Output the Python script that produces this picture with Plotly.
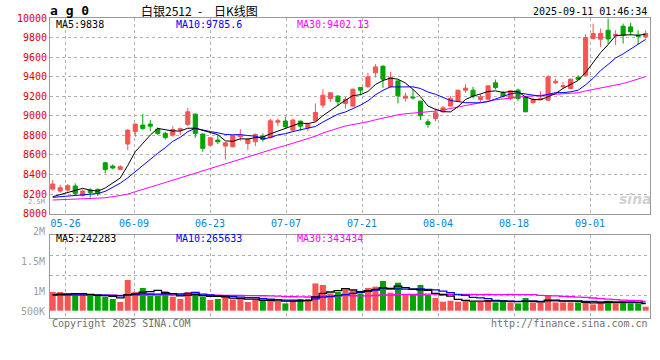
import plotly.graph_objects as go

# ---------------- data ----------------
dates = ["05-22", "05-23", "05-26", "05-27", "05-28", "05-29", "05-30", "06-03", "06-04", "06-05",
         "06-06", "06-09", "06-10", "06-11", "06-12", "06-13", "06-16", "06-17", "06-18", "06-19",
         "06-20", "06-23", "06-24", "06-25", "06-26", "06-27", "06-30", "07-01", "07-02", "07-03",
         "07-04", "07-07", "07-08", "07-09", "07-10", "07-11", "07-14", "07-15", "07-16", "07-17",
         "07-18", "07-21", "07-22", "07-23", "07-24", "07-25", "07-28", "07-29", "07-30", "07-31",
         "08-01", "08-04", "08-05", "08-06", "08-07", "08-08", "08-11", "08-12", "08-13", "08-14",
         "08-15", "08-18", "08-19", "08-20", "08-21", "08-22", "08-25", "08-26", "08-27", "08-28",
         "08-29", "09-01", "09-02", "09-03", "09-04", "09-05", "09-08", "09-09", "09-10", "09-11"]

open_p = [8251, 8231, 8241, 8282, 8183, 8241, 8248, 8520, 8486, 8452,
          8711, 8840, 8905, 8915, 8864, 8820, 8803, 8854, 8912, 9017,
          8813, 8700, 8752, 8690, 8683, 8786, 8717, 8734, 8792, 8779,
          8935, 8946, 8854, 8946, 8877, 8949, 9109, 9177, 9201, 9126,
          9099, 9289, 9296, 9439, 9507, 9296, 9357, 9180, 9191, 9150,
          8939, 8973, 9041, 9099, 9150, 9262, 9262, 9167, 9170, 9337,
          9235, 9177, 9262, 9194, 9136, 9167, 9160, 9337, 9296, 9279,
          9392, 9415, 9790, 9783, 9875, 9817, 9916, 9909, 9824, 9807]
high_p = [8343, 8292, 8302, 8309, 8248, 8258, 8258, 8530, 8503, 8496,
          8860, 8922, 9017, 8956, 8881, 8837, 8894, 8881, 9078, 9024,
          8820, 8786, 8803, 8734, 8803, 8864, 8775, 8820, 8820, 8969,
          8973, 8990, 8973, 8950, 8929, 9126, 9272, 9240, 9211, 9194,
          9279, 9292, 9439, 9528, 9517, 9449, 9364, 9235, 9269, 9153,
          8966, 9075, 9099, 9201, 9266, 9323, 9296, 9221, 9313, 9371,
          9255, 9262, 9279, 9201, 9177, 9252, 9415, 9381, 9347, 9381,
          9415, 9834, 9943, 9892, 9994, 9875, 9943, 9950, 9875, 9875]
low_p = [8234, 8214, 8224, 8190, 8173, 8163, 8180, 8411, 8452, 8445,
         8649, 8786, 8854, 8843, 8803, 8758, 8786, 8803, 8894, 8775,
         8632, 8690, 8711, 8554, 8677, 8745, 8649, 8690, 8734, 8769,
         8894, 8871, 8837, 8847, 8843, 8939, 9082, 9143, 9099, 9075,
         9092, 9211, 9289, 9392, 9286, 9289, 9126, 9146, 9167, 8956,
         8877, 8946, 9031, 9092, 9143, 9235, 9177, 9143, 9160, 9269,
         9187, 9160, 9153, 9037, 9119, 9160, 9150, 9323, 9279, 9279,
         9364, 9410, 9780, 9705, 9732, 9722, 9739, 9824, 9732, 9790]
close_p = [8302, 8265, 8285, 8207, 8231, 8214, 8207, 8452, 8466, 8479,
           8854, 8915, 8871, 8894, 8820, 8779, 8860, 8867, 9041, 8820,
           8667, 8775, 8734, 8724, 8796, 8796, 8762, 8809, 8758, 8949,
           8949, 8888, 8956, 8894, 8912, 9034, 9211, 9235, 9143, 9170,
           9272, 9262, 9398, 9500, 9374, 9392, 9204, 9201, 9184, 9000,
           8912, 9031, 9082, 9177, 9262, 9283, 9201, 9194, 9306, 9289,
           9201, 9255, 9177, 9041, 9167, 9177, 9398, 9354, 9306, 9374,
           9374, 9800, 9841, 9841, 9786, 9834, 9824, 9858, 9814, 9841]

ma5 = [8173, 8195, 8215, 8238, 8258, 8240, 8229, 8262, 8314, 8364,
       8492, 8633, 8717, 8803, 8871, 8856, 8845, 8844, 8873, 8873,
       8851, 8834, 8807, 8744, 8739, 8765, 8762, 8777, 8784, 8815,
       8845, 8871, 8900, 8927, 8920, 8937, 9001, 9057, 9107, 9159,
       9206, 9216, 9249, 9320, 9361, 9385, 9374, 9334, 9271, 9196,
       9100, 9066, 9042, 9040, 9093, 9167, 9201, 9223, 9249, 9255,
       9238, 9249, 9246, 9193, 9168, 9163, 9192, 9227, 9280, 9322,
       9361, 9442, 9539, 9646, 9728, 9820, 9825, 9829, 9823, 9834]
ma10 = [8166, 8172, 8178, 8185, 8191, 8198, 8205, 8228, 8268, 8311,
        8366, 8431, 8490, 8558, 8617, 8674, 8739, 8781, 8838, 8872,
        8853, 8839, 8826, 8809, 8806, 8808, 8798, 8792, 8764, 8777,
        8805, 8817, 8839, 8856, 8867, 8891, 8936, 8979, 9017, 9039,
        9072, 9109, 9153, 9214, 9260, 9296, 9295, 9292, 9296, 9279,
        9243, 9220, 9188, 9156, 9145, 9134, 9133, 9133, 9145, 9174,
        9203, 9225, 9235, 9221, 9211, 9201, 9221, 9237, 9237, 9245,
        9262, 9317, 9383, 9463, 9525, 9591, 9633, 9684, 9735, 9781]
ma30 = [8139, 8141, 8144, 8147, 8150, 8154, 8158, 8162, 8172, 8185,
        8200, 8222, 8246, 8270, 8294, 8318, 8342, 8366, 8392, 8416,
        8440, 8462, 8484, 8507, 8530, 8554, 8578, 8602, 8627, 8653,
        8675, 8696, 8718, 8741, 8764, 8791, 8824, 8851, 8873, 8896,
        8910, 8922, 8939, 8959, 8978, 8998, 9010, 9021, 9026, 9032,
        9040, 9048, 9060, 9075, 9091, 9107, 9121, 9134, 9153, 9164,
        9172, 9185, 9192, 9197, 9205, 9210, 9216, 9220, 9226, 9233,
        9236, 9254, 9269, 9280, 9294, 9309, 9330, 9352, 9373, 9401]

volume = [654000, 654000, 584000, 535000, 570000, 514000, 514000, 490000, 409000, 304000,
          1074000, 654000, 794000, 514000, 514000, 675000, 490000, 409000, 654000, 605000,
          490000, 374000, 409000, 535000, 395000, 395000, 304000, 395000, 339000, 395000,
          304000, 255000, 374000, 409000, 409000, 955000, 899000, 605000, 654000, 752000,
          724000, 605000, 794000, 840000, 1039000, 630000, 980000, 549000, 584000, 899000,
          549000, 444000, 315000, 350000, 315000, 374000, 315000, 315000, 374000, 290000,
          374000, 290000, 255000, 444000, 290000, 290000, 549000, 290000, 290000, 290000,
          290000, 290000, 220000, 290000, 350000, 255000, 339000, 255000, 255000, 140000]
vol_ma5 = [560000, 575000, 585000, 595000, 599000, 571000, 543000, 525000, 499000, 446000,
           558000, 586000, 647000, 668000, 710000, 630000, 597000, 520000, 548000, 567000,
           530000, 506000, 506000, 483000, 441000, 422000, 408000, 405000, 366000, 366000,
           347000, 338000, 333000, 347000, 350000, 480000, 609000, 655000, 704000, 773000,
           727000, 668000, 706000, 743000, 800000, 782000, 857000, 808000, 756000, 728000,
           712000, 605000, 558000, 511000, 395000, 360000, 334000, 334000, 339000, 334000,
           334000, 329000, 317000, 331000, 331000, 314000, 366000, 373000, 342000, 342000,
           342000, 290000, 276000, 276000, 288000, 281000, 291000, 298000, 291000, 249000]
vol_ma10 = [550000, 552000, 554000, 556000, 556000, 552000, 548000, 542000, 534000, 523000,
            565000, 565000, 586000, 584000, 578000, 594000, 592000, 584000, 608000, 638000,
            580000, 552000, 513000, 516000, 504000, 476000, 457000, 456000, 424000, 403000,
            385000, 373000, 369000, 357000, 358000, 414000, 473000, 494000, 526000, 562000,
            604000, 639000, 681000, 724000, 787000, 754000, 762000, 757000, 750000, 764000,
            747000, 731000, 683000, 634000, 562000, 536000, 469000, 446000, 425000, 364000,
            347000, 331000, 325000, 335000, 332000, 324000, 347000, 345000, 336000, 336000,
            328000, 328000, 324000, 309000, 315000, 311000, 290000, 287000, 283000, 268000]
vol_ma30 = [545000, 545000, 545000, 545000, 545000, 544000, 543000, 542000, 540000, 538000,
            545000, 547000, 550000, 550000, 550000, 552000, 550000, 548000, 548000, 548000,
            545000, 542000, 540000, 538000, 535000, 532000, 528000, 525000, 523000, 521000,
            510000, 496000, 489000, 485000, 480000, 495000, 507000, 511000, 519000, 534000,
            523000, 521000, 521000, 532000, 549000, 548000, 564000, 569000, 567000, 576000,
            578000, 581000, 578000, 571000, 569000, 568000, 568000, 566000, 567000, 563000,
            566000, 567000, 563000, 564000, 560000, 538000, 526000, 516000, 504000, 488000,
            474000, 463000, 444000, 426000, 403000, 390000, 369000, 359000, 348000, 323000]

tick_dates = ["05-26", "06-09", "06-23", "07-07", "07-21", "08-04", "08-18", "09-01"]
price_ticks = [8000, 8200, 8400, 8600, 8800, 9000, 9200, 9400, 9600, 9800, 10000]
price_ma_labels = ["MA5:9838", "MA10:9785.6", "MA30:9402.13"]
vol_ma_labels = ["MA5:242283", "MA10:265633", "MA30:343434"]
vol_axis_labels = ["2.5M", "2M", "1.5M", "1M", "500K"]
symbol = "a g 0"
title_name = "白银2512"
title_kind = "日K线图"
timestamp = "2025-09-11 01:46:34"
copyright_text = "Copyright 2025 SINA.COM"
url_text = "http://finance.sina.com.cn"
watermark = "sina"

for arr in (open_p, high_p, low_p, close_p, ma5, ma10, ma30, volume, vol_ma5, vol_ma10, vol_ma30):
    assert len(arr) == len(dates), len(arr)

# ---------------- style ----------------
RED = "#f85454"
GREEN = "#00a400"
BLUE = "#0000ff"
MAGENTA = "#ff00ff"
BLACK = "#000000"
GRID = "#b0b0b0"
FRAME = "#9a9a9a"
MONO = "DejaVu Sans Mono"

W, H = 660, 360
ML, MR, MT, MB = 50, 10, 18, 42
PH = H - MT - MB  # plot height in px (300)


def py(pix):  # pixel row -> paper y
    return (H - MB - pix) / PH


def px(pix):  # pixel col -> paper x
    return (pix - ML) / (W - ML - MR)


VOL_PER_PX = 35000
vol_base_px = 310.7
vol_top_px = 234.7
vol_range = [-(H - MB - vol_base_px) * VOL_PER_PX, (vol_base_px - vol_top_px) * VOL_PER_PX]
vol_grid = [(vol_base_px - p) * VOL_PER_PX for p in (295, 275, 255)]

idx = list(range(len(dates)))
tick_pos = [dates.index(d) * 1.0125 - 0.3 for d in tick_dates]

fig = go.Figure()

fig.add_trace(go.Candlestick(
    x=idx, open=open_p, high=high_p, low=low_p, close=close_p,
    increasing=dict(line=dict(color=RED, width=1), fillcolor=RED),
    decreasing=dict(line=dict(color=GREEN, width=1), fillcolor=GREEN),
    whiskerwidth=0, showlegend=False, hoverinfo="skip", xaxis="x", yaxis="y"))

for arr, col in ((ma30, MAGENTA), (ma10, BLUE), (ma5, BLACK)):
    fig.add_trace(go.Scatter(x=idx, y=arr, mode="lines", line=dict(color=col, width=1),
                             showlegend=False, hoverinfo="skip", xaxis="x", yaxis="y"))

vol_colors = [RED if c >= o else GREEN for o, c in zip(open_p, close_p)]
fig.add_trace(go.Bar(x=idx, y=volume, width=0.8, marker=dict(color=vol_colors, line=dict(width=0)),
                     showlegend=False, hoverinfo="skip", xaxis="x2", yaxis="y2"))

for arr, col in ((vol_ma30, MAGENTA), (vol_ma10, BLUE), (vol_ma5, BLACK)):
    fig.add_trace(go.Scatter(x=idx, y=arr, mode="lines", line=dict(color=col, width=1.3, shape="hvh"),
                             showlegend=False, hoverinfo="skip", xaxis="x2", yaxis="y2"))

xr = [-0.36, len(dates) - 0.42]
common_x = dict(range=xr, tickvals=tick_pos, showgrid=True, gridcolor=GRID, griddash="dot",
                gridwidth=1, showline=True, mirror=True, linecolor=FRAME, linewidth=1,
                ticks="", zeroline=False, fixedrange=True, automargin=False)

fig.update_layout(
    width=W, height=H, margin=dict(l=ML, r=MR, t=MT, b=MB, autoexpand=False),
    paper_bgcolor="white", plot_bgcolor="white", boxgap=0.22,
    font=dict(family=MONO, size=10, color=BLACK),
    xaxis=dict(**common_x, anchor="y", ticktext=tick_dates,
               tickfont=dict(family=MONO, size=10, color="#0a84d6"),
               rangeslider=dict(visible=False)),
    xaxis2=dict(**common_x, anchor="y2", matches="x", showticklabels=False),
    yaxis=dict(domain=[py(213.6), 1], range=[8000, 10000], tickvals=price_ticks, tickformat="d",
               tickfont=dict(family=MONO, size=10, color="#e00000"), automargin=False,
               showgrid=True, gridcolor=GRID, griddash="dot", showline=True, mirror=True,
               linecolor=FRAME, linewidth=1, ticks="", zeroline=False, fixedrange=True),
    yaxis2=dict(domain=[0, py(vol_top_px)], range=vol_range, tickvals=vol_grid, automargin=False,
                showticklabels=False, showgrid=True, gridcolor=GRID, griddash="dot",
                showline=True, mirror=True, linecolor=FRAME, linewidth=1, ticks="",
                zeroline=False, fixedrange=True),
)

ann = []


def add_text(text, x, y, anchor="left", color=BLACK, size=10, family=MONO, **kw):
    ann.append(dict(text=text, x=x, y=y, xref="paper", yref="paper", xanchor=anchor,
                    yanchor="middle", showarrow=False,
                    font=dict(family=family, size=size, color=color), **kw))


add_text("<b>" + symbol + "</b>", px(48), py(11), size=13)
add_text(title_name, px(139), py(11), size=12, family="Noto Sans CJK SC")
add_text("-", px(200), py(11), anchor="center", size=12, family="Noto Sans CJK SC")
add_text(title_kind, px(212), py(11), size=12, family="Noto Sans CJK SC")
add_text(timestamp, px(649), py(11.5), anchor="right", size=10)

for lab, x0, col in zip(price_ma_labels, (54, 174, 295), (BLACK, BLUE, MAGENTA)):
    add_text(lab, px(x0), py(24), color=col)
for lab, x0, col in zip(vol_ma_labels, (54, 174, 295), (BLACK, BLUE, MAGENTA)):
    add_text(lab, px(x0), py(238.5), color=col)

for lab, yy, sz in zip(vol_axis_labels, (201.5, 231, 261, 291, 311), (7, 10, 10, 10, 10)):
    add_text(lab, px(46.5), py(yy), anchor="right", color="#a0a0a0", size=sz)

add_text(copyright_text, px(50), py(323.5), color="#707070")
add_text(url_text, px(649.5), py(323.5), anchor="right", color="#707070")

add_text("<b><i>" + watermark + "</i></b>", px(635), py(199), anchor="center",
         color="rgba(170,170,170,0.55)", size=14, family="DejaVu Sans")

fig.update_layout(annotations=ann)
fig.write_html("out.html", config={"displayModeBar": False, "staticPlot": True},
               post_script="document.body.style.margin='0';")
